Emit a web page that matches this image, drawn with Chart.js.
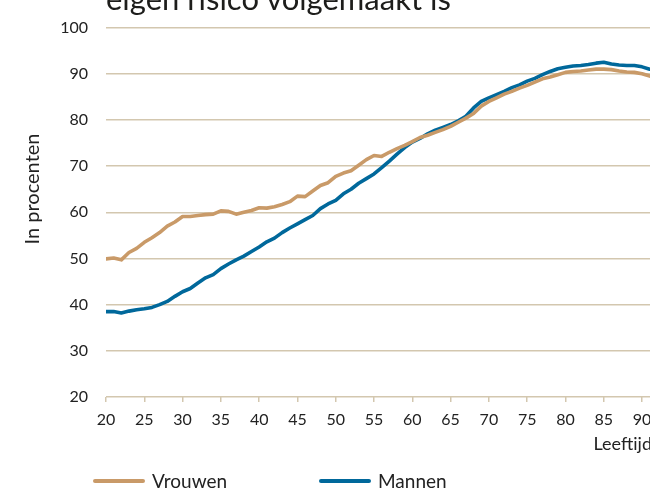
<!DOCTYPE html>
<html lang="nl">
<head>
<meta charset="utf-8">
<script src="https://cdn.jsdelivr.net/npm/chart.js@4/dist/chart.umd.min.js"></script>
<style>
    html, body { margin: 0; padding: 0; background: #fff; }
    body { width: 650px; height: 493px; overflow: hidden; position: relative; font-family: Lato, sans-serif; color: #222; }
    #wrap { position: absolute; left: 0; top: 0; width: 652px; height: 493px; }
    #title { position: absolute; left: 106px; top: -17px; font-size: 31px; line-height: 1; white-space: nowrap; color: #1d1d1b; }
    .legend-item { position: absolute; top: 470px; font-size: 19px; line-height: 22px; display: flex; align-items: center; }
    .legend-item span.line { display: inline-block; width: 52px; height: 4px; border-radius: 2px; margin-right: 7px; }
</style>
</head>
<body>
<div id="wrap"><canvas id="chart" width="652" height="493"></canvas></div>
<div id="title">eigen risico volgemaakt is</div>
<div class="legend-item" style="left:93px"><span class="line" style="background:#c99a68"></span>Vrouwen</div>
<div class="legend-item" style="left:319px"><span class="line" style="background:#00689b"></span>Mannen</div>
<script>
const ages = [20, 21, 22, 23, 24, 25, 26, 27, 28, 29, 30, 31, 32, 33, 34, 35, 36, 37, 38, 39,
    40, 41, 42, 43, 44, 45, 46, 47, 48, 49, 50, 51, 52, 53, 54, 55, 56, 57, 58, 59,
    60, 61, 62, 63, 64, 65, 66, 67, 68, 69, 70, 71, 72, 73, 74, 75, 76, 77, 78, 79,
    80, 81, 82, 83, 84, 85, 86, 87, 88, 89, 90, 91];

const vrouwen = [49.9, 50.1, 49.7, 51.3, 52.2, 53.5, 54.5, 55.6, 57.0, 57.9, 59.1, 59.1, 59.3, 59.5, 59.6, 60.3, 60.2, 59.6, 60.0, 60.4,
    61.0, 60.9, 61.2, 61.7, 62.3, 63.5, 63.4, 64.6, 65.8, 66.4, 67.8, 68.5, 69.0, 70.2, 71.4, 72.3, 72.1, 73.0, 73.8, 74.5,
    75.3, 76.2, 76.7, 77.3, 77.9, 78.6, 79.5, 80.4, 81.4, 83.0, 84.0, 84.8, 85.6, 86.2, 86.9, 87.5, 88.2, 88.9, 89.3, 89.8,
    90.3, 90.5, 90.6, 90.8, 91.0, 91.0, 90.9, 90.6, 90.4, 90.3, 90.0, 89.5];

const mannen = [38.5, 38.5, 38.2, 38.6, 38.9, 39.1, 39.4, 40.0, 40.7, 41.8, 42.8, 43.5, 44.7, 45.8, 46.5, 47.8, 48.8, 49.7, 50.5, 51.5,
    52.5, 53.6, 54.4, 55.6, 56.6, 57.5, 58.4, 59.3, 60.8, 61.8, 62.6, 64.0, 65.0, 66.3, 67.3, 68.3, 69.7, 71.1, 72.6, 74.0,
    75.2, 76.0, 77.0, 77.8, 78.4, 79.0, 79.8, 80.8, 82.6, 84.0, 84.8, 85.5, 86.2, 87.0, 87.6, 88.4, 89.0, 89.8, 90.5, 91.1,
    91.4, 91.7, 91.8, 92.0, 92.3, 92.5, 92.1, 91.9, 91.8, 91.8, 91.5, 91.0];

const xTicks = [20, 25, 30, 35, 40, 45, 50, 55, 60, 65, 70, 75, 80, 85, 90];
const yTicks = [20, 30, 40, 50, 60, 70, 80, 90, 100];

const gridColor = '#d3c7af';
const textColor = '#222';

function toPoints(values) {
    return ages.map((a, i) => ({ x: a, y: values[i] }));
}

// y-as titel staat in het origineel iets boven het midden
const yTitlePlugin = {
    id: 'yTitle',
    afterDraw(chart) {
        const c = chart.ctx;
        c.save();
        c.translate(33, 189);
        c.rotate(-Math.PI / 2);
        c.font = '20px Lato';
        c.fillStyle = textColor;
        c.textAlign = 'center';
        c.textBaseline = 'middle';
        c.fillText('In procenten', 0, 0);
        c.restore();
    }
};

const ctx = document.getElementById('chart').getContext('2d');

new Chart(ctx, {
    type: 'line',
    data: {
        datasets: [{
            label: 'Vrouwen',
            data: toPoints(vrouwen),
            borderColor: '#c99a68',
            borderWidth: 3.6,
            borderCapStyle: 'round',
            borderJoinStyle: 'round',
            pointRadius: 0,
            tension: 0
        }, {
            label: 'Mannen',
            data: toPoints(mannen),
            borderColor: '#00689b',
            borderWidth: 3.6,
            borderCapStyle: 'round',
            borderJoinStyle: 'round',
            pointRadius: 0,
            tension: 0
        }]
    },
    options: {
        responsive: false,
        animation: false,
        devicePixelRatio: 1,
        layout: {
            padding: { top: 25, left: 0, right: 0, bottom: 36 }
        },
        plugins: {
            legend: { display: false },
            tooltip: { enabled: false }
        },
        scales: {
            x: {
                type: 'linear',
                min: 20,
                max: 91.3,
                afterBuildTicks: scale => { scale.ticks = xTicks.map(v => ({ value: v })); },
                afterFit: scale => {
                    scale.height = 60;
                    scale.paddingLeft = 0;
                    scale.paddingRight = 0;
                },
                grid: {
                    drawOnChartArea: false,
                    drawTicks: true,
                    tickLength: 5,
                    color: gridColor,
                    tickColor: gridColor,
                    lineWidth: 1.5
                },
                border: { display: false },
                ticks: {
                    padding: 8,
                    maxRotation: 0,
                    autoSkip: false,
                    color: textColor,
                    font: { family: 'Lato', size: 16 }
                },
                title: {
                    display: true,
                    text: 'Leeftijd',
                    align: 'end',
                    color: textColor,
                    font: { family: 'Lato', size: 18 },
                    padding: { top: 0, bottom: 2 }
                }
            },
            y: {
                min: 20,
                max: 100,
                afterBuildTicks: scale => { scale.ticks = yTicks.map(v => ({ value: v })); },
                afterFit: scale => { scale.width = 106; },
                grid: {
                    drawTicks: false,
                    color: gridColor,
                    lineWidth: 1.5
                },
                border: { display: false },
                ticks: {
                    padding: 18,
                    color: textColor,
                    font: { family: 'Lato', size: 16 }
                }
            }
        }
    },
    plugins: [yTitlePlugin]
});
</script>
</body>
</html>
